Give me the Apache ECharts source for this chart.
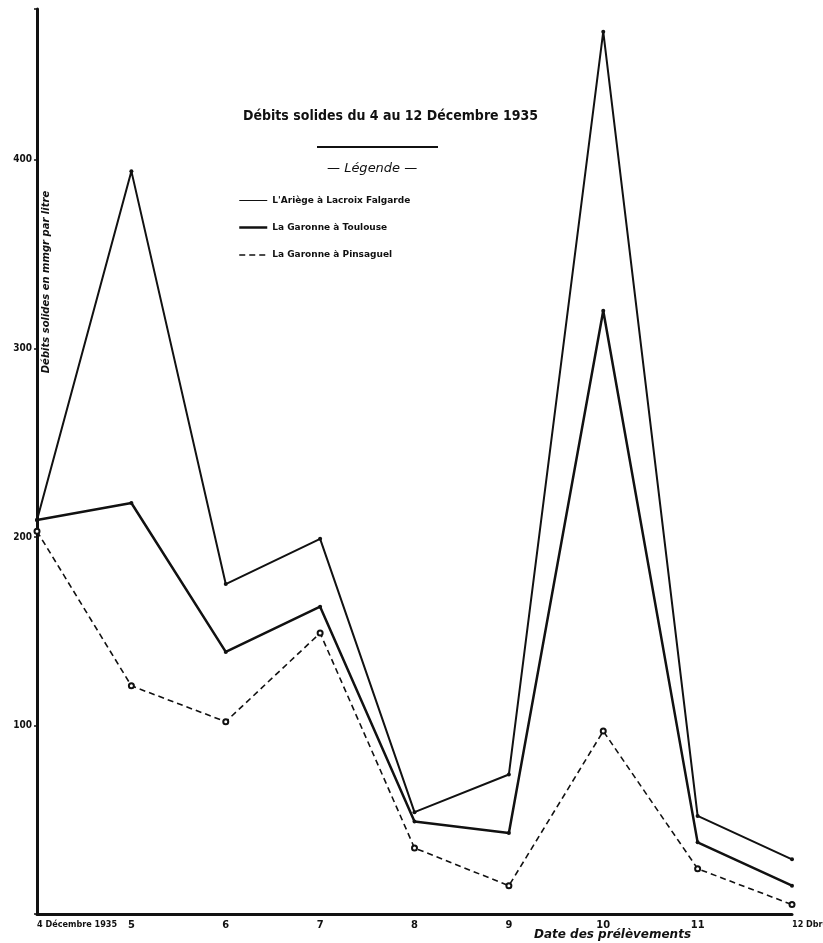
<!DOCTYPE html>
<html>
<head>
<meta charset="utf-8">
<title>Débits solides</title>
<script src="https://cdn.jsdelivr.net/npm/echarts@6/dist/echarts.min.js"></script>
<style>
  html, body { margin: 0; padding: 0; background: #fff; }
  #charts { width: 823px; height: 943px; }
</style>
</head>
<body>
<div id="charts"></div>
<script>
/* data */
let days = ["4 Décembre 1935", "5", "6", "7", "8", "9", "10", "11", "12 Dbre 1935"];
let ariege = [209, 394, 175, 199, 54, 74, 468, 52, 29];
let toulouse = [209, 218, 139, 163, 49, 43, 320, 38, 15];
let pinsaguel = [203, 121, 102, 149, 35, 15, 97, 24, 5];
let yTicks = [100, 200, 300, 400];

let names = ["L'Ariège à Lacroix Falgarde", "La Garonne à Toulouse", "La Garonne à Pinsaguel"];
let ink = "#111";

/* chart render */
let myChart = echarts.init(document.getElementById("charts"));
let option = {
  backgroundColor: "#fff",
  animation: false,
  grid: { left: 37, right: 31, top: 9, bottom: 29, outerBoundsMode: "none", containLabel: false },
  legend: {
    left: 233,
    top: 191,
    orient: "vertical",
    itemWidth: 28,
    itemHeight: 10,
    itemGap: 18,
    itemStyle: { opacity: 0 },
    textStyle: { fontFamily: "DejaVu Sans", fontWeight: "bold", fontSize: 9, color: ink },
    data: [
      { name: names[0], lineStyle: { width: 1 } },
      { name: names[1], lineStyle: { width: 2.5 } },
      { name: names[2], lineStyle: { width: 1.5 } },
    ],
  },
  xAxis: {
    type: "category",
    data: days,
    boundaryGap: false,
    axisLine: { lineStyle: { color: ink, width: 3 } },
    axisTick: { show: false },
    axisLabel: {
      interval: 0,
      hideOverlap: false,
      color: ink,
      fontFamily: "DejaVu Sans Condensed",
      fontWeight: "bold",
      fontSize: 11,
      margin: 6,
      alignMinLabel: "left",
      alignMaxLabel: "left",
      formatter: function (v, i) {
        return i === 0 || i === days.length - 1 ? "{s|" + v + "}" : v;
      },
      rich: { s: { fontSize: 9, fontWeight: "bold", fontFamily: "DejaVu Sans Condensed", color: ink } },
    },
    name: "Date des prélèvements",
    nameLocation: "middle",
    nameGap: 15,
    nameMoveOverlap: false,
    nameTextStyle: {
      fontFamily: "DejaVu Sans",
      fontStyle: "italic",
      fontWeight: "bold",
      fontSize: 12,
      color: ink,
      padding: [0, 0, 0, 396],
    },
  },
  yAxis: {
    type: "value",
    min: 0,
    max: 480,
    interval: 100,
    splitLine: { show: false },
    axisLine: { show: true, lineStyle: { color: ink, width: 3 } },
    axisTick: { show: true, length: 3, lineStyle: { color: ink, width: 1.5 } },
    axisLabel: {
      color: ink,
      fontFamily: "DejaVu Sans Condensed",
      fontWeight: "bold",
      fontSize: 10,
      margin: 5,
      formatter: function (v) {
        return yTicks.indexOf(v) >= 0 ? String(v) : "";
      },
    },
  },
  series: [
    {
      name: names[0],
      type: "line",
      data: ariege,
      symbol: "circle",
      symbolSize: 4,
      itemStyle: { color: ink },
      lineStyle: { color: ink, width: 2 },
    },
    {
      name: names[1],
      type: "line",
      data: toulouse,
      symbol: "circle",
      symbolSize: 4,
      itemStyle: { color: ink },
      lineStyle: { color: ink, width: 2.5 },
    },
    {
      name: names[2],
      type: "line",
      data: pinsaguel,
      symbol: "emptyCircle",
      symbolSize: 5,
      itemStyle: { color: ink, borderWidth: 1.2 },
      lineStyle: { color: ink, width: 1.6, type: [6, 4] },
    },
  ],
  graphic: [
    {
      type: "text",
      left: 243,
      top: 109,
      style: {
        text: "Débits solides du 4 au 12 Décembre 1935",
        fill: ink,
        font: "bold 14px 'DejaVu Sans Condensed'",
      },
    },
    {
      type: "line",
      shape: { x1: 317, y1: 147, x2: 438, y2: 147 },
      style: { stroke: ink, lineWidth: 2 },
    },
    {
      type: "text",
      left: 327,
      top: 162,
      style: { text: "— Légende —", fill: ink, font: "italic 13px 'DejaVu Sans'" },
    },
    {
      type: "text",
      x: 46,
      y: 282,
      rotation: Math.PI / 2,
      style: {
        text: "Débits solides en mmgr par litre",
        fill: ink,
        font: "italic bold 10px 'DejaVu Sans'",
        align: "center",
        verticalAlign: "middle",
      },
    },
  ],
};
myChart.setOption(option);
</script>
</body>
</html>
